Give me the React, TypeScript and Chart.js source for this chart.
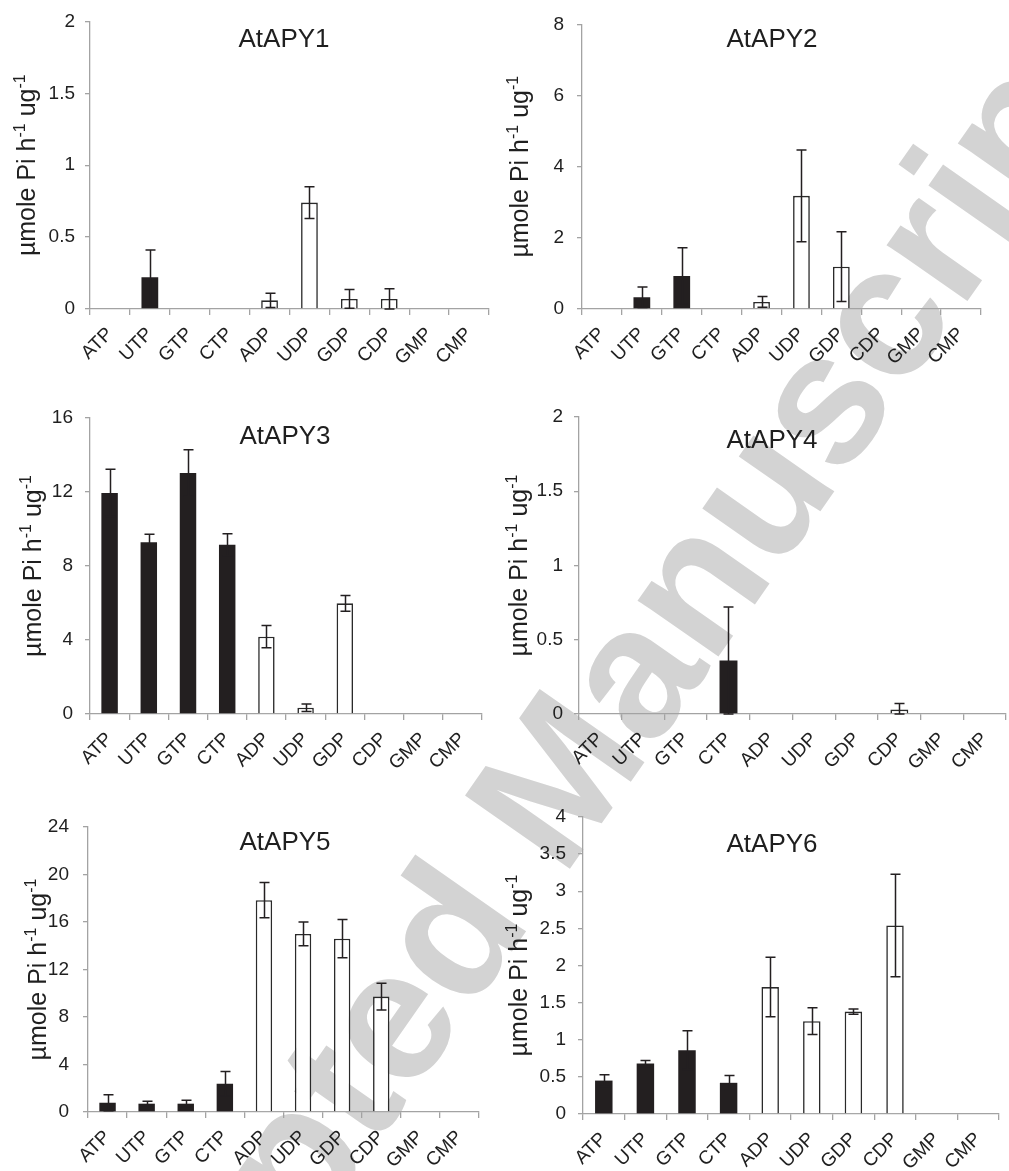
import React, { useEffect, useRef } from 'react';
import { Chart, registerables } from 'chart.js';

Chart.register(...registerables);

// ---------- data ----------
const categories = ['ATP', 'UTP', 'GTP', 'CTP', 'ADP', 'UDP', 'GDP', 'CDP', 'GMP', 'CMP'];

const titles = ['AtAPY1', 'AtAPY2', 'AtAPY3', 'AtAPY4', 'AtAPY5', 'AtAPY6'];

const apy1Values = [0, 0.22, 0, 0, 0.06, 0.74, 0.07, 0.07, 0, 0];
const apy1Errors = [0, 0.19, 0, 0, 0.05, 0.11, 0.065, 0.07, 0, 0];

const apy2Values = [0, 0.33, 0.93, 0, 0.2, 3.18, 1.19, 0, 0, 0];
const apy2Errors = [0, 0.29, 0.79, 0, 0.15, 1.29, 0.98, 0, 0, 0];

const apy3Values = [11.95, 9.28, 13.03, 9.15, 4.18, 0.34, 5.98, 0, 0, 0];
const apy3Errors = [1.28, 0.43, 1.26, 0.6, 0.6, 0.2, 0.43, 0, 0, 0];

const apy4Values = [0, 0, 0, 0.36, 0, 0, 0, 0.03, 0, 0];
const apy4Errors = [0, 0, 0, 0.36, 0, 0, 0, 0.04, 0, 0];

const apy5Values = [0.78, 0.7, 0.7, 2.38, 17.84, 14.99, 14.6, 9.72, 0, 0];
const apy5Errors = [0.68, 0.2, 0.28, 1.04, 1.49, 1.0, 1.62, 1.12, 0, 0];

const apy6Values = [0.45, 0.68, 0.86, 0.42, 1.71, 1.25, 1.38, 2.54, 0, 0];
const apy6Errors = [0.08, 0.04, 0.26, 0.1, 0.4, 0.18, 0.035, 0.69, 0, 0];

const yMaxes = [2, 8, 16, 2, 24, 4];
const ySteps = [0.5, 2, 4, 0.5, 4, 0.5];

const seriesValues = [apy1Values, apy2Values, apy3Values, apy4Values, apy5Values, apy6Values];
const seriesErrors = [apy1Errors, apy2Errors, apy3Errors, apy4Errors, apy5Errors, apy6Errors];

const watermarkText = 'Accepted Manuscript';

// ---------- layout / style ----------
const FONT = '"Liberation Sans", Arial, sans-serif';
const TEXT = '#1f1f1f';
const AXIS = '#a3a3a3';
const DARK = '#231f20';

type Geo = {
  left: number; top: number; width: number; height: number;
  axisLeft: number; areaTop: number; areaBottom: number; areaRight: number;
  labelX: number; titleX: number; titleY: number; tickPad: number;
};

const geos: Geo[] = [
  { left: 0, top: 0, width: 500, height: 380, axisLeft: 90, areaTop: 21, areaBottom: 309, areaRight: 489, labelX: 26, titleX: 284, titleY: 40, tickPad: 10 },
  { left: 500, top: 0, width: 509, height: 380, axisLeft: 82, areaTop: 14, areaBottom: 309, areaRight: 481, labelX: 19, titleX: 272, titleY: 40, tickPad: 13 },
  { left: 0, top: 380, width: 500, height: 400, axisLeft: 90, areaTop: 38, areaBottom: 334, areaRight: 482, labelX: 32, titleX: 285, titleY: 57, tickPad: 12 },
  { left: 500, top: 380, width: 509, height: 400, axisLeft: 79, areaTop: 37, areaBottom: 334, areaRight: 507, labelX: 18, titleX: 272, titleY: 61, tickPad: 11 },
  { left: 0, top: 780, width: 500, height: 391, axisLeft: 88, areaTop: 47, areaBottom: 332, areaRight: 479, labelX: 37, titleX: 285, titleY: 63, tickPad: 14 },
  { left: 500, top: 780, width: 509, height: 391, axisLeft: 83, areaTop: 37, areaBottom: 334, areaRight: 499, labelX: 18, titleX: 272, titleY: 65, tickPad: 12 },
];

const errorBarPlugin = {
  id: 'errorBars',
  afterDatasetsDraw(chart: any, _args: any, opts: any) {
    const { ctx } = chart;
    const meta = chart.getDatasetMeta(0);
    const ys = chart.scales.y;
    const vals = chart.data.datasets[0].data as number[];
    const errs: number[] = opts.errors || [];
    ctx.save();
    ctx.strokeStyle = DARK;
    ctx.lineWidth = 1.5;
    meta.data.forEach((bar: any, i: number) => {
      const e = errs[i];
      if (!e) return;
      const v = vals[i];
      const x = Math.round(bar.x) + 0.5;
      const yt = ys.getPixelForValue(v + e);
      const yb = ys.getPixelForValue(Math.max(0, v - e));
      const cap = 5;
      ctx.beginPath();
      ctx.moveTo(x, yt);
      ctx.lineTo(x, yb);
      ctx.moveTo(x - cap, yt);
      ctx.lineTo(x + cap, yt);
      ctx.moveTo(x - cap, yb);
      ctx.lineTo(x + cap, yb);
      ctx.stroke();
    });
    ctx.restore();
  },
};

const labelPlugin = {
  id: 'panelLabels',
  afterDraw(chart: any, _args: any, opts: any) {
    const { ctx, chartArea } = chart;
    ctx.save();
    ctx.fillStyle = TEXT;
    ctx.font = `26px ${FONT}`;
    ctx.textAlign = 'center';
    ctx.textBaseline = 'middle';
    ctx.fillText(opts.title, opts.titleX, opts.titleY);

    const parts = [
      { t: 'µmole Pi h', sup: false },
      { t: '-1', sup: true },
      { t: ' ug', sup: false },
      { t: '-1', sup: true },
    ];
    const normalFont = `25px ${FONT}`;
    const supFont = `16px ${FONT}`;
    let total = 0;
    const widths = parts.map((p) => {
      ctx.font = p.sup ? supFont : normalFont;
      const w = ctx.measureText(p.t).width;
      total += w;
      return w;
    });
    const cy = (chartArea.top + chartArea.bottom) / 2;
    ctx.translate(opts.labelX, cy);
    ctx.rotate(-Math.PI / 2);
    ctx.textAlign = 'left';
    ctx.textBaseline = 'alphabetic';
    let x = -total / 2;
    parts.forEach((p, i) => {
      ctx.font = p.sup ? supFont : normalFont;
      ctx.fillText(p.t, x, p.sup ? -1 : 9);
      x += widths[i];
    });
    ctx.restore();
  },
};

function fmt(v: any) {
  return String(parseFloat(Number(v).toFixed(2)));
}

function Panel({ idx }: { idx: number }) {
  const ref = useRef<HTMLCanvasElement>(null);
  const g = geos[idx];
  useEffect(() => {
    if (!ref.current) return;
    const vals = seriesValues[idx];
    const errs = seriesErrors[idx];
    const bg = categories.map((_, i) => (i < 4 ? DARK : '#ffffff'));
    const bc = categories.map((_, i) => (i < 4 ? DARK : '#2a2a2a'));
    const bw = categories.map((_, i) => (i < 4 ? 0 : 1.6));
    const chart = new Chart(ref.current, {
      type: 'bar',
      data: {
        labels: categories,
        datasets: [
          {
            data: vals,
            backgroundColor: bg,
            borderColor: bc,
            borderWidth: bw,
            borderSkipped: 'bottom',
            barPercentage: 0.42,
            categoryPercentage: 1,
          },
        ],
      },
      options: {
        animation: false,
        responsive: false,
        maintainAspectRatio: false,
        layout: { padding: { top: g.areaTop, right: g.width - g.areaRight, left: 0, bottom: 0 } },
        plugins: {
          legend: { display: false },
          tooltip: { enabled: false },
          title: { display: false },
          errorBars: { errors: errs },
          panelLabels: { title: titles[idx], titleX: g.titleX, titleY: g.titleY, labelX: g.labelX },
        } as any,
        scales: {
          x: {
            grid: {
              display: true,
              drawOnChartArea: false,
              drawTicks: true,
              tickLength: 6,
              color: AXIS,
              lineWidth: 1.3,
              offset: true,
            },
            border: { color: AXIS, width: 1.3 },
            ticks: {
              autoSkip: false,
              maxRotation: 45,
              minRotation: 45,
              font: { family: FONT, size: 19 },
              color: TEXT,
              padding: 8,
            },
            afterFit: (s: any) => {
              s.height = g.height - g.areaBottom;
            },
          },
          y: {
            min: 0,
            max: yMaxes[idx],
            ticks: {
              stepSize: ySteps[idx],
              font: { family: FONT, size: 19 },
              color: TEXT,
              padding: g.tickPad,
              callback: (v: any) => fmt(v),
            },
            grid: {
              display: true,
              drawOnChartArea: false,
              drawTicks: true,
              tickLength: 5,
              color: AXIS,
              lineWidth: 1.3,
            },
            border: { color: AXIS, width: 1.3 },
            afterFit: (s: any) => {
              s.width = g.axisLeft;
            },
          },
        },
      },
      plugins: [errorBarPlugin, labelPlugin],
    });
    return () => chart.destroy();
  }, [idx]);
  return (
    <canvas
      ref={ref}
      width={g.width}
      height={g.height}
      style={{ position: 'absolute', left: g.left, top: g.top, width: g.width, height: g.height, zIndex: 1 }}
    />
  );
}

export default function App() {
  return (
    <div
      style={{
        position: 'absolute',
        left: 0,
        top: 0,
        width: 1009,
        height: 1171,
        overflow: 'hidden',
        background: '#ffffff',
      }}
    >
      <div
        style={{
          position: 'absolute',
          left: 540,
          top: 800,
          transform: 'translate(-50%, -50%) rotate(-55deg)',
          fontFamily: FONT,
          fontWeight: 'bold',
          fontSize: 186,
          color: '#d3d3d3',
          whiteSpace: 'nowrap',
          lineHeight: 1,
          zIndex: 0,
        }}
      >
        {watermarkText}
      </div>
      {geos.map((_, i) => (
        <Panel key={i} idx={i} />
      ))}
    </div>
  );
}
